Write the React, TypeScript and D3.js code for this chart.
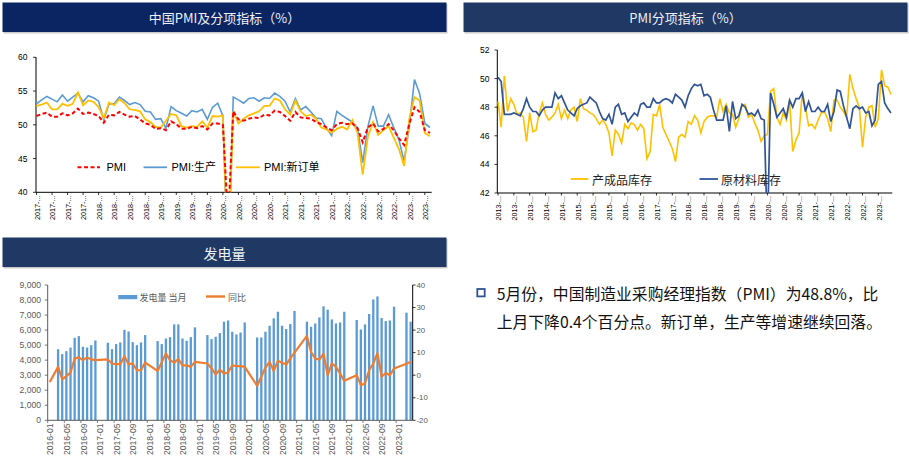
import React from "react";
import * as d3 from "d3";

// ---------- Panel 1: 中国PMI及分项指标 (2017-01 .. 2023-05) ----------
const pmiStartYear = 2017;
const pmi = [
  51.3, 51.6, 51.8, 51.2, 51.2, 51.7, 51.4, 51.7, 52.4, 51.6, 51.8, 51.6,
  51.3, 50.3, 51.5, 51.4, 51.9, 51.5, 51.2, 51.3, 50.8, 50.2, 50.0, 49.4,
  49.5, 49.2, 50.5, 50.1, 49.4, 49.4, 49.7, 49.5, 49.8, 49.3, 50.2, 50.2,
  50.0, 35.7, 52.0, 50.8, 50.6, 50.9, 51.1, 51.0, 51.5, 51.4, 52.1, 51.9,
  51.3, 50.6, 51.9, 51.1, 51.0, 50.9, 50.4, 50.1, 49.6, 49.2, 50.1, 50.3,
  50.1, 50.2, 49.5, 47.4, 49.6, 50.2, 49.0, 49.4, 50.1, 49.2, 48.0, 47.0,
  50.1, 52.6, 51.9, 49.2, 48.8,
];
const pmiProduction = [
  53.1, 53.7, 54.2, 53.8, 53.4, 54.4, 53.5, 54.1, 54.7, 53.4, 54.3, 54.0,
  53.5, 50.7, 53.1, 53.1, 54.1, 53.6, 53.0, 53.3, 53.0, 52.0, 51.9, 50.8,
  50.9, 49.5, 52.7, 52.1, 51.7, 51.3, 52.1, 51.9, 52.3, 50.8, 52.6, 53.2,
  51.3, 27.8, 54.1, 53.7, 53.2, 53.9, 54.0, 53.5, 54.0, 53.9, 54.7, 54.2,
  53.5, 51.9, 53.9, 52.2, 52.7, 51.9, 51.0, 50.9, 49.5, 48.4, 52.0, 51.4,
  50.9, 50.4, 49.5, 44.4, 49.7, 52.8, 49.8, 49.8, 51.5, 49.6, 47.8, 44.6,
  49.8, 56.7, 54.6, 50.2, 49.6,
];
const pmiNewOrders = [
  52.8, 53.0, 53.3, 52.3, 52.3, 53.1, 52.8, 53.1, 54.8, 52.9, 53.6, 53.4,
  52.6, 51.0, 53.3, 52.9, 53.8, 53.2, 52.3, 52.2, 52.0, 50.8, 50.4, 49.7,
  49.6, 50.6, 51.6, 51.4, 49.8, 49.6, 49.8, 49.7, 50.5, 49.6, 51.3, 51.2,
  51.4, 29.3, 52.0, 50.2, 50.9, 51.4, 51.7, 52.0, 52.8, 52.8, 53.9, 53.6,
  52.3, 51.5, 53.6, 52.0, 51.3, 51.5, 50.9, 49.6, 49.3, 48.8, 49.4, 49.7,
  49.3, 50.7, 48.8, 42.6, 48.2, 50.4, 48.5, 49.2, 49.8, 48.1, 46.4, 43.9,
  50.9, 54.1, 53.6, 48.8, 48.3,
];
const pmiYTicks = [40, 45, 50, 55, 60];
const pmiSeriesNames = ["PMI", "PMI:生产", "PMI:新订单"];

// ---------- Panel 2: PMI分项指标 (2013-01 .. 2023-05) ----------
const invStartYear = 2013;
const invFinished = [
  48.4, 46.6, 50.2, 47.7, 48.6, 48.2, 47.5, 47.6, 47.3, 45.6, 47.6, 46.3,
  46.4, 47.6, 48.3, 47.5, 47.1, 47.3, 47.6, 48.2, 47.2, 47.8, 47.2, 47.8,
  48.0, 47.0, 48.6, 47.9, 47.8, 47.6, 47.5, 47.2, 46.8, 47.1, 46.8, 46.2,
  44.6, 46.4, 46.1, 45.5, 46.8, 46.5, 46.9, 46.8, 46.4, 46.8, 46.5, 44.4,
  44.9, 47.5, 47.4, 48.2, 46.6, 46.1, 45.6, 45.1, 44.2, 45.9, 46.1, 45.9,
  47.0, 46.8, 47.4, 47.1, 46.2, 47.0, 47.3, 47.4, 47.4, 47.3, 48.6, 47.7,
  48.2, 47.6, 47.5, 46.6, 47.2, 48.1, 48.2, 47.3, 47.5, 46.9, 46.4, 45.6,
  46.0, 46.1, 49.1, 49.3, 47.3, 46.8, 47.6, 47.1, 48.4, 44.9, 45.7, 46.2,
  49.0, 48.0, 46.7, 46.8, 46.5, 47.1, 47.6, 47.7, 47.2, 46.3, 48.5, 48.5,
  48.0, 47.7, 47.3, 50.3, 49.3, 48.6, 48.0, 45.2, 47.3, 48.0, 48.1, 46.6,
  47.2, 50.6, 49.5, 49.4, 48.9,
];
const invRaw = [
  50.1, 49.8, 47.5, 47.5, 47.5, 47.6, 47.5, 47.4, 47.9, 48.6, 48.0, 47.7,
  47.7, 47.4, 47.8, 48.0, 48.0, 48.0, 49.0, 48.6, 48.8, 48.3, 47.8, 47.6,
  47.4, 47.9, 48.1, 48.2, 48.3, 48.7, 48.5, 48.3, 47.7, 47.2, 47.1, 47.5,
  46.8, 48.0, 48.2, 47.5, 47.6, 47.0, 47.3, 47.6, 47.4, 48.2, 48.3, 48.0,
  48.0, 48.6, 48.3, 48.3, 48.5, 48.6, 48.5, 48.3, 48.9, 48.7, 48.5, 48.0,
  48.8, 49.3, 49.6, 49.5, 49.6, 48.8, 48.9, 48.7, 47.8, 47.1, 47.1, 47.1,
  48.1, 46.3, 48.4, 47.2, 47.4, 48.2, 48.0, 47.5, 47.6, 47.4, 47.8, 47.2,
  47.1, 39.0, 49.0, 48.2, 47.3, 47.6, 47.9, 47.3, 48.5, 48.0, 48.6, 48.6,
  49.0, 47.7, 48.4, 47.7, 47.7, 48.0, 47.7, 47.7, 48.2, 47.0, 47.7, 49.2,
  49.1, 48.1, 47.3, 46.5, 47.9, 48.1, 47.9, 48.0, 47.6, 47.7, 46.7, 47.1,
  49.6, 49.8, 48.3, 47.9, 47.6,
];
const invYTicks = [42, 44, 46, 48, 50, 52];
const invSeriesNames = ["产成品库存", "原材料库存"];

// ---------- Panel 3: 发电量 (2016-01 .. 2023-04) ----------
const powerStartYear = 2016;
const powerOutput = [
  null, null, 4730, 4400, 4600, 4840, 5490, 5600, 4890, 4840, 5000, 5310,
  null, null, 5160, 4730, 5070, 5180, 6020, 5910, 5200, 5000, 5180, 5670,
  null, null, 5270, 5070, 5440, 5530, 6380, 6380, 5440, 5290, 5530, 6180,
  null, null, 5670, 5400, 5560, 5800, 6560, 6640, 5890, 5710, 5840, 6510,
  null, null, 5510, 5510, 5890, 6290, 6780, 7220, 6290, 6070, 6400, 7270,
  null, null, 6560, 6220, 6440, 6840, 7580, 7360, 6710, 6440, 6510, 7220,
  null, null, 6670, 6040, 6380, 7070, 8040, 8240, 6800, 6600, 6640, 7560,
  null, null, 7160, 6560,
];
const powerYoY = [
  -3.0, null, 3.7, -1.8, -0.4, 1.2, 7.4, 7.9, 6.7, 7.9, 7.0, 6.7,
  null, null, 7.0, 5.2, 4.9, 4.9, 8.4, 4.9, 5.2, 2.2, 2.2, 5.6,
  null, null, 1.9, 5.8, 9.6, 6.7, 5.6, 7.1, 4.4, 4.4, 3.7, 5.9,
  null, null, 5.2, 3.0, 0.3, 2.5, 0.7, 1.2, 4.4, 4.0, 4.0, 3.7,
  null, null, -4.7, -0.7, 3.4, 5.9, 1.9, 6.4, 5.5, 4.7, 7.5, 10.0,
  null, null, 17.4, 10.3, 7.4, 6.9, 9.6, 0.0, 5.2, 3.7, 0.7, -2.5,
  null, null, 0.0, -4.4, -3.7, 2.2, 5.2, 9.8, -0.7, 1.0, 0.0, 3.0,
  null, null, 5.1, 6.0,
];
const powerLeftTicks = [0, 1000, 2000, 3000, 4000, 5000, 6000, 7000, 8000, 9000];
const powerRightTicks = [-20, -10, 0, 10, 20, 30, 40];
const powerSeriesNames = ["发电量 当月", "同比"];

// ---------- Text ----------
const noteLines = [
  "5月份，中国制造业采购经理指数（PMI）为48.8%，比",
  "上月下降0.4个百分点。新订单，生产等增速继续回落。",
];

const LATIN = "'Liberation Sans', Arial, sans-serif";
const MIXED = "'Liberation Sans', 'Noto Sans CJK SC', sans-serif";
const CJK = "'Noto Sans CJK SC', 'Liberation Sans', sans-serif";

const monthKeys = (y0: number, n: number) =>
  d3.range(n).map((i) => d3.timeFormat("%Y-%m")(new Date(y0, i, 1)));

function Header({ x, y, w, h, fill, title, size }: any) {
  return (
    <g>
      <rect x={x + 1} y={y + 1.5} width={w} height={h} fill="#c9c9c9" />
      <rect x={x} y={y} width={w} height={h} fill={fill} />
      <text
        x={x + w / 2}
        y={y + h / 2 + 0.5}
        textAnchor="middle"
        dominantBaseline="central"
        fill="#eef1f6"
        fontSize={size}
        fontFamily={CJK}
      >
        {title}
      </text>
    </g>
  );
}

export default function App() {
  // ---------- Panel 1 scales ----------
  const tlKeys = monthKeys(pmiStartYear, pmi.length);
  const x1 = d3.scaleLinear().domain([0, pmi.length - 1]).range([36.5, 430]);
  const y1 = d3.scaleLinear().domain([40, 60]).range([192.3, 57.3]);
  const line1 = d3
    .line<number>()
    .x((_, i) => x1(i))
    .y((d) => y1(d));

  // ---------- Panel 2 scales ----------
  const trKeys = monthKeys(invStartYear, invRaw.length);
  const x2 = d3.scaleLinear().domain([0, invRaw.length - 1]).range([498, 891]);
  const y2 = d3.scaleLinear().domain([42, 52]).range([193, 50]);
  const line2 = d3
    .line<number>()
    .x((_, i) => x2(i))
    .y((d) => y2(d));

  // ---------- Panel 3 scales ----------
  const bKeys = monthKeys(powerStartYear, powerOutput.length);
  const x3 = d3.scaleBand<string>().domain(bKeys).range([47.7, 412.7]);
  const bw = x3.bandwidth();
  const cx3 = (k: string) => (x3(k) as number) + bw / 2;
  const y3L = d3.scaleLinear().domain([0, 9000]).range([420.3, 285]);
  const y3R = d3.scaleLinear().domain([-20, 40]).range([420.3, 285]);
  const yoyPts = bKeys
    .map((k, i) => ({ k, v: powerYoY[i] }))
    .filter((p) => p.v !== null) as { k: string; v: number }[];
  const line3 = d3
    .line<{ k: string; v: number }>()
    .x((p) => cx3(p.k))
    .y((p) => y3R(p.v));
  const fmtThousands = d3.format(",");

  return (
    <svg
      width={909}
      height={467}
      style={{ position: "absolute", left: 0, top: 0, background: "#fff" }}
      fontFamily={LATIN}
    >
      <defs>
        <clipPath id="clipTL">
          <rect x={36} y={50} width={400} height={142.3} />
        </clipPath>
        <clipPath id="clipTR">
          <rect x={497} y={40} width={400} height={153} />
        </clipPath>
      </defs>
      <rect x={0} y={0} width={909} height={467} fill="#fff" />

      {/* ===== Panel 1 ===== */}
      <Header x={2.5} y={2.5} w={444} h={29.5} fill="#0b2462" title="中国PMI及分项指标（%）" size={13} />
      <g>
        {pmiYTicks.map((t) => (
          <g key={t}>
            <line x1={33} x2={36} y1={y1(t)} y2={y1(t)} stroke="#000" strokeWidth={0.8} />
            <text x={27.5} y={y1(t)} textAnchor="end" dominantBaseline="central" fontSize={8.5} fill="#000">
              {t}
            </text>
          </g>
        ))}
        <line x1={36} x2={36} y1={57} y2={192.3} stroke="#000" strokeWidth={1} />
        <line x1={36} x2={431.7} y1={192.3} y2={192.3} stroke="#000" strokeWidth={1} />
        {tlKeys.map((k, i) =>
          i % 3 === 0 ? (
            <g key={k}>
              <line x1={x1(i)} x2={x1(i)} y1={192.3} y2={195} stroke="#000" strokeWidth={0.8} />
              <text
                transform={`translate(${x1(i) + 0.8},${195.5}) rotate(-90)`}
                textAnchor="end"
                dominantBaseline="central"
                fontSize={7.2}
                fill="#000"
              >
                {k.slice(0, 5) + "..."}
              </text>
            </g>
          ) : null
        )}
        <g clipPath="url(#clipTL)" fill="none">
          <path d={line1(pmiProduction) || ""} stroke="#5b9bd5" strokeWidth={1.6} />
          <path d={line1(pmiNewOrders) || ""} stroke="#ffc000" strokeWidth={1.8} />
          <path d={line1(pmi) || ""} stroke="#ff0000" strokeWidth={2} strokeDasharray="4,2.5" />
        </g>
        {/* legend */}
        <line x1={77.5} x2={100} y1={167.3} y2={167.3} stroke="#ff0000" strokeWidth={2} strokeDasharray="4,2.5" />
        <text x={106.5} y={167.3} dominantBaseline="central" fontSize={11} fontFamily={MIXED} fill="#000">
          {pmiSeriesNames[0]}
        </text>
        <line x1={143.5} x2={167} y1={167.3} y2={167.3} stroke="#5b9bd5" strokeWidth={1.8} />
        <text x={171.5} y={167.3} dominantBaseline="central" fontSize={11} fontFamily={MIXED} fill="#000">
          {pmiSeriesNames[1]}
        </text>
        <line x1={236} x2={260} y1={167.3} y2={167.3} stroke="#ffc000" strokeWidth={1.8} />
        <text x={264} y={167.3} dominantBaseline="central" fontSize={11} fontFamily={MIXED} fill="#000">
          {pmiSeriesNames[2]}
        </text>
      </g>

      {/* ===== Panel 2 ===== */}
      <Header x={463.5} y={2.5} w={444} h={29.5} fill="#1f3864" title="PMI分项指标（%）" size={13} />
      <g>
        {invYTicks.map((t) => (
          <g key={t}>
            <line x1={494.5} x2={497.3} y1={y2(t)} y2={y2(t)} stroke="#000" strokeWidth={0.8} />
            <text x={489.5} y={y2(t)} textAnchor="end" dominantBaseline="central" fontSize={8.5} fill="#000">
              {t}
            </text>
          </g>
        ))}
        <line x1={497.3} x2={497.3} y1={50} y2={193} stroke="#000" strokeWidth={1} />
        <line x1={497.3} x2={892.3} y1={193} y2={193} stroke="#000" strokeWidth={1} />
        {trKeys.map((k, i) =>
          i % 5 === 0 ? (
            <g key={k}>
              <line x1={x2(i)} x2={x2(i)} y1={193} y2={195.5} stroke="#000" strokeWidth={0.8} />
              <text
                transform={`translate(${x2(i) + 0.8},${196}) rotate(-90)`}
                textAnchor="end"
                dominantBaseline="central"
                fontSize={7.2}
                fill="#000"
              >
                {k.slice(0, 5) + "..."}
              </text>
            </g>
          ) : null
        )}
        <g clipPath="url(#clipTR)" fill="none">
          <path d={line2(invFinished) || ""} stroke="#ffc000" strokeWidth={1.6} />
          <path d={line2(invRaw) || ""} stroke="#2f5597" strokeWidth={1.7} />
        </g>
        <line x1={570.7} x2={588.3} y1={179} y2={179} stroke="#ffc000" strokeWidth={1.8} />
        <text x={592} y={179} dominantBaseline="central" fontSize={12} fontFamily={CJK} fill="#222">
          {invSeriesNames[0]}
        </text>
        <line x1={699.5} x2={718} y1={179} y2={179} stroke="#2f5597" strokeWidth={1.8} />
        <text x={721} y={179} dominantBaseline="central" fontSize={12} fontFamily={CJK} fill="#222">
          {invSeriesNames[1]}
        </text>
      </g>

      {/* ===== Panel 3 ===== */}
      <Header x={2.5} y={237.5} w={444} h={29.5} fill="#1f3864" title="发电量" size={14} />
      <g>
        {bKeys.map((k, i) =>
          powerOutput[i] !== null ? (
            <rect
              key={k}
              x={cx3(k) - 1.15}
              y={y3L(powerOutput[i] as number)}
              width={2.3}
              height={y3L(0) - y3L(powerOutput[i] as number)}
              fill="#5b9bd5"
            />
          ) : null
        )}
        {powerLeftTicks.map((t) => (
          <g key={t}>
            <line x1={44.7} x2={47.7} y1={y3L(t)} y2={y3L(t)} stroke="#595959" strokeWidth={0.8} />
            <text x={41} y={y3L(t)} textAnchor="end" dominantBaseline="central" fontSize={8.6} fill="#595959">
              {fmtThousands(t)}
            </text>
          </g>
        ))}
        {powerRightTicks.map((t) => (
          <g key={t}>
            <line x1={412.7} x2={415.5} y1={y3R(t)} y2={y3R(t)} stroke="#000" strokeWidth={0.8} />
            <text x={416.5} y={y3R(t)} textAnchor="start" dominantBaseline="central" fontSize={7.8} fill="#595959">
              {t}
            </text>
          </g>
        ))}
        <line x1={47.7} x2={47.7} y1={285} y2={420.3} stroke="#595959" strokeWidth={1} />
        <line x1={412.7} x2={412.7} y1={285} y2={420.3} stroke="#000" strokeWidth={1} />
        <line x1={47.7} x2={412.7} y1={420.3} y2={420.3} stroke="#595959" strokeWidth={1} />
        {bKeys.map((k, i) =>
          i % 4 === 0 ? (
            <g key={k}>
              <line x1={x3(k) as number} x2={x3(k) as number} y1={420.3} y2={423} stroke="#595959" strokeWidth={0.8} />
              <text
                transform={`translate(${cx3(k) + 0.6},${423.5}) rotate(-90)`}
                textAnchor="end"
                dominantBaseline="central"
                fontSize={8.6}
                fill="#595959"
              >
                {k}
              </text>
            </g>
          ) : null
        )}
        <path d={line3(yoyPts) || ""} fill="none" stroke="#ed7d31" strokeWidth={2.2} strokeLinejoin="round" />
        {/* legend */}
        <rect x={118.3} y={295} width={19} height={4.2} fill="#5b9bd5" />
        <text x={139.5} y={297} dominantBaseline="central" fontSize={9} fontFamily={CJK} fill="#595959">
          {powerSeriesNames[0]}
        </text>
        <line x1={206} x2={225} y1={296.5} y2={296.5} stroke="#ed7d31" strokeWidth={2.4} />
        <text x={228} y={297} dominantBaseline="central" fontSize={9} fontFamily={CJK} fill="#595959">
          {powerSeriesNames[1]}
        </text>
      </g>

      {/* ===== Note text ===== */}
      <rect x={477.3} y={289} width={7.4} height={7.4} fill="none" stroke="#2f5597" strokeWidth={1.8} />
      {noteLines.map((s, i) => (
        <text
          key={i}
          x={496.7}
          y={293.5 + i * 28.4}
          dominantBaseline="central"
          fontSize={15.8}
          fontFamily={CJK}
          fill="#111"
        >
          {s}
        </text>
      ))}
    </svg>
  );
}
